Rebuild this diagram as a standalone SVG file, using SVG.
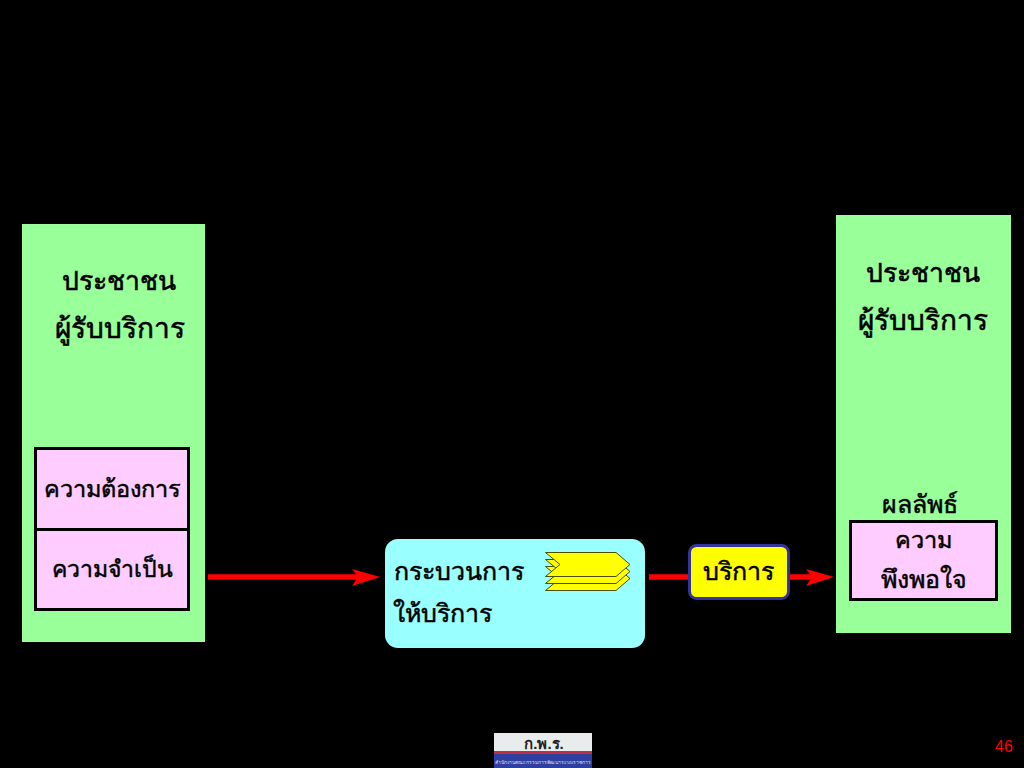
<svg xmlns="http://www.w3.org/2000/svg" width="1024" height="768" viewBox="0 0 1024 768">
<defs>
<style>
text{font-family:"Liberation Sans","DejaVu Sans","Noto Sans",sans-serif;fill:#000;text-anchor:middle}
.b{font-size:28px;stroke:#000;stroke-width:.6px}
.t{font-size:26.500px;stroke:#000;stroke-width:.6px}
.m{font-size:25px;stroke:#000;stroke-width:.5px}
.s{font-size:23.500px;stroke:#000;stroke-width:.5px}
.green{fill:#99ff99}
.pink{fill:#ffccff;stroke:#000;stroke-width:3}
.chev{fill:#ffff00;stroke:#4d4d00;stroke-width:1}
.arrow{stroke:#ff0000;stroke-width:5.500;fill:none}
.head{fill:#ff0000}
</style>
<path id="chevron" class="chev" d="M545.500 552.500H616L630 564.500L616 576.500H545.500L560 564.500Z"/>
</defs>
<rect width="1024" height="768" fill="#000"/>
<g id="connectors">
<path class="arrow" d="M208 577H362"/><path class="head" d="M380 577L352 569L358 577L352 586Z"/>
<path class="arrow" d="M649 577H690"/>
<path class="arrow" d="M788 577H816"/><path class="head" d="M834 577L806 569L812 577L806 586Z"/>
</g>
<g id="node-left">
<rect class="green" x="22" y="224" width="183" height="418"/>
<text class="t" x="119" y="290">ประชาชน</text>
<text class="b" x="120" y="338">ผู้รับบริการ</text>
</g>
<g id="node-need">
<rect class="pink" x="35.500" y="448.500" width="153" height="81"/>
<text class="s" x="112.500" y="497">ความต้องการ</text>
</g>
<g id="node-necessity">
<rect class="pink" x="35.500" y="529.500" width="153" height="80"/>
<text class="s" x="112" y="577" style="font-size:23px">ความจำเป็น</text>
</g>
<g id="node-process">
<rect x="385" y="539" width="260" height="109" rx="13" fill="#99ffff"/>
<text class="m" x="459" y="580">กระบวนการ</text>
<text class="m" x="442" y="622">ให้บริการ</text>
<use href="#chevron" y="14"/>
<use href="#chevron" y="7"/>
<use href="#chevron"/>
</g>
<g id="node-service">
<rect x="689.500" y="545.500" width="99" height="53" rx="7" fill="#ffff00" stroke="#333399" stroke-width="3"/>
<text class="m" x="738.500" y="580">บริการ</text>
</g>
<g id="node-right">
<rect class="green" x="836" y="215" width="175" height="418"/>
<text class="t" x="923" y="282">ประชาชน</text>
<text class="b" x="923" y="330">ผู้รับบริการ</text>
<text class="m" x="920" y="513">ผลลัพธ์</text>
</g>
<g id="node-satisfaction">
<rect class="pink" x="850.500" y="521.500" width="146" height="78"/>
<text class="s" x="923" y="548">ความ</text>
<text class="m" x="923.500" y="588">พึงพอใจ</text>
</g>
<g id="logo">
<rect x="494" y="733" width="98" height="20" fill="#e8ecec"/>
<rect x="494" y="751" width="98" height="3" fill="#c03040"/>
<rect x="494" y="754" width="98" height="14" fill="#2f3f9f"/>
<text x="544" y="749" font-size="15" font-weight="bold" style="fill:#222">ก.พ.ร.</text>
<text x="543" y="764" font-size="5" style="fill:#dde">สำนักงานคณะกรรมการพัฒนาระบบราชการ</text>
</g>
<text x="1004" y="752" font-size="16" style="fill:#ff0000">46</text>
</svg>
